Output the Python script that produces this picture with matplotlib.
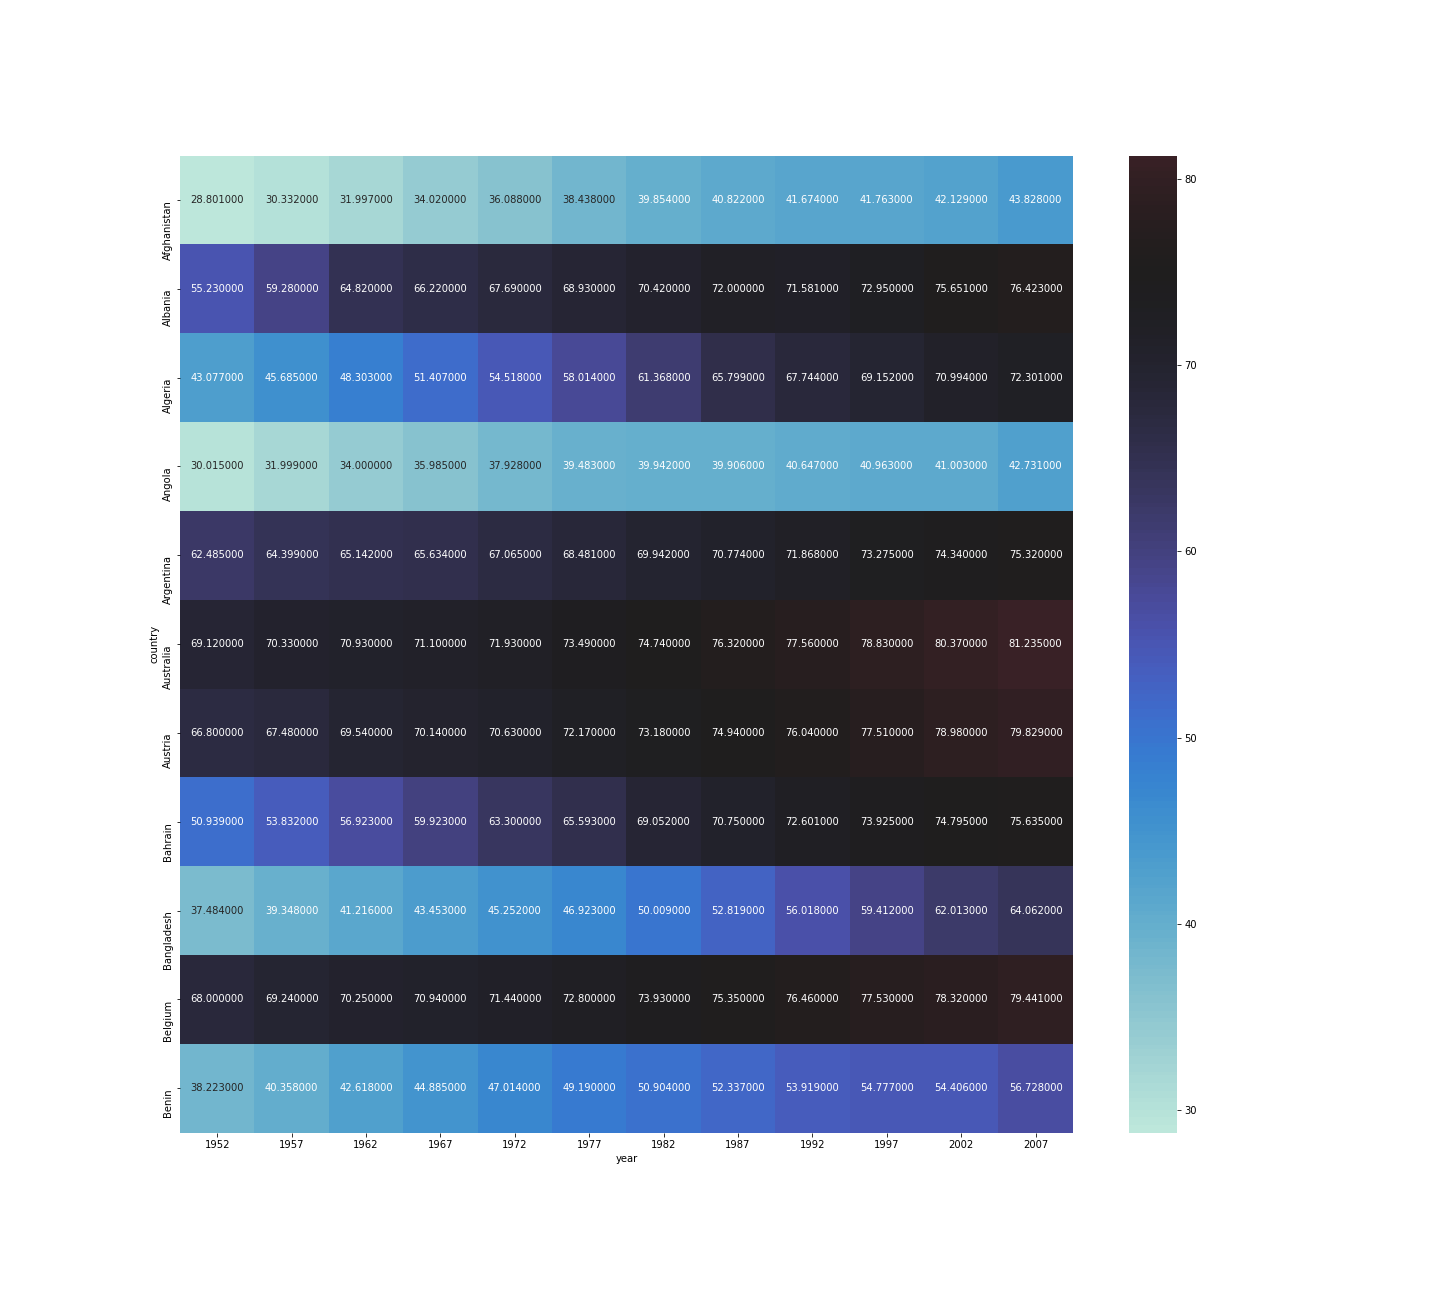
import numpy as np
import pandas as pd
import matplotlib

matplotlib.use('Agg')
import matplotlib.pyplot as plt
import seaborn as sns

countries = ['Afghanistan', 'Albania', 'Algeria', 'Angola', 'Argentina', 'Australia',
             'Austria', 'Bahrain', 'Bangladesh', 'Belgium', 'Benin']

years = [1952, 1957, 1962, 1967, 1972, 1977, 1982, 1987, 1992, 1997, 2002, 2007]

afghanistan = [28.801, 30.332, 31.997, 34.020, 36.088, 38.438, 39.854, 40.822, 41.674, 41.763, 42.129, 43.828]
albania = [55.230, 59.280, 64.820, 66.220, 67.690, 68.930, 70.420, 72.000, 71.581, 72.950, 75.651, 76.423]
algeria = [43.077, 45.685, 48.303, 51.407, 54.518, 58.014, 61.368, 65.799, 67.744, 69.152, 70.994, 72.301]
angola = [30.015, 31.999, 34.000, 35.985, 37.928, 39.483, 39.942, 39.906, 40.647, 40.963, 41.003, 42.731]
argentina = [62.485, 64.399, 65.142, 65.634, 67.065, 68.481, 69.942, 70.774, 71.868, 73.275, 74.340, 75.320]
australia = [69.120, 70.330, 70.930, 71.100, 71.930, 73.490, 74.740, 76.320, 77.560, 78.830, 80.370, 81.235]
austria = [66.800, 67.480, 69.540, 70.140, 70.630, 72.170, 73.180, 74.940, 76.040, 77.510, 78.980, 79.829]
bahrain = [50.939, 53.832, 56.923, 59.923, 63.300, 65.593, 69.052, 70.750, 72.601, 73.925, 74.795, 75.635]
bangladesh = [37.484, 39.348, 41.216, 43.453, 45.252, 46.923, 50.009, 52.819, 56.018, 59.412, 62.013, 64.062]
belgium = [68.000, 69.240, 70.250, 70.940, 71.440, 72.800, 73.930, 75.350, 76.460, 77.530, 78.320, 79.441]
benin = [38.223, 40.358, 42.618, 44.885, 47.014, 49.190, 50.904, 52.337, 53.919, 54.777, 54.406, 56.728]

life_exp = [afghanistan, albania, algeria, angola, argentina, australia,
            austria, bahrain, bangladesh, belgium, benin]

df = pd.DataFrame(life_exp, index=pd.Index(countries, name='country'),
                  columns=pd.Index(years, name='year'))

fig = plt.figure(figsize=(20, 18), dpi=72)
fig.subplots_adjust(left=0.125, right=0.9, bottom=0.126, top=0.88)
ax = fig.add_subplot(111)

sns.heatmap(df, annot=True, fmt="f", center=75, ax=ax)

# old-style placement: label top sits on the tick
for lbl in ax.get_yticklabels():
    lbl.set_verticalalignment('top')

plt.savefig('out.png', dpi=72)
plt.close()
